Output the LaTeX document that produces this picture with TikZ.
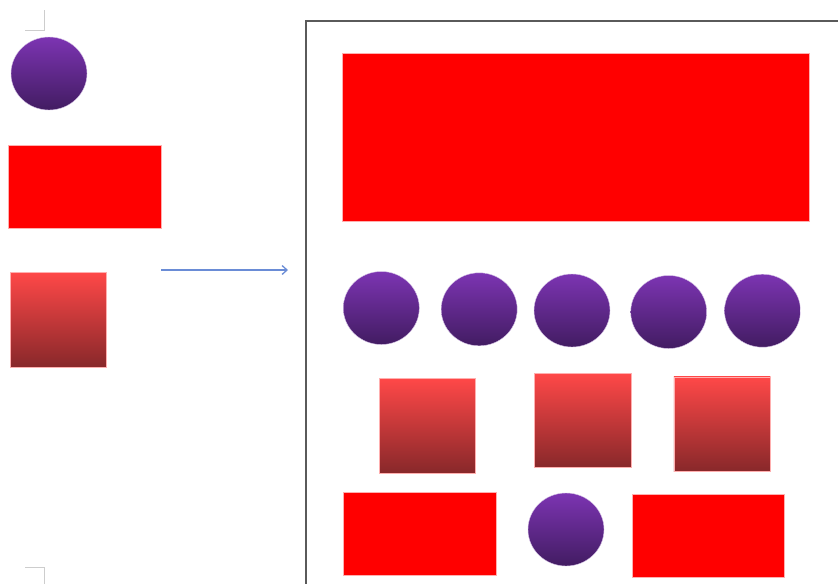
\documentclass[tikz,border=0pt]{standalone}
\usetikzlibrary{shapes.geometric,arrows.meta}
\definecolor{ballTop}{RGB}{124,52,178}
\definecolor{ballBot}{RGB}{66,28,98}
\definecolor{ballRim}{RGB}{215,195,232}
\definecolor{tileTop}{RGB}{255,72,72}
\definecolor{tileBot}{RGB}{136,40,42}
\definecolor{slabRed}{RGB}{255,0,0}
\definecolor{slabRim}{RGB}{255,175,175}
\definecolor{arrowBlue}{RGB}{106,140,214}
\definecolor{frameGray}{RGB}{90,90,90}
\definecolor{cropGray}{RGB}{205,205,205}
\tikzset{
  ball/.style={ellipse, inner sep=0pt, minimum width=76pt, minimum height=73pt,
    top color=ballTop, bottom color=ballBot, draw=ballRim, line width=0.4pt},
  slab/.style={rectangle, inner sep=0pt, fill=slabRed, draw=slabRim, line width=0.3pt},
  tile/.style={rectangle, inner sep=0pt, minimum width=96.5pt, minimum height=94.5pt,
    top color=tileTop, bottom color=tileBot, draw=slabRim, line width=0.3pt},
  cropmark/.style={draw=cropGray, line width=0.8pt},
  flow/.style={draw=arrowBlue, line width=1.3pt, -{Straight Barb[length=5pt,width=9pt]}},
}
\begin{document}
\begin{tikzpicture}[x=1pt,y=-1pt]
  \useasboundingbox (0,0) rectangle (838,584);
  \fill[white] (0,0) rectangle (838,584);

  % page corner marks
  \draw[cropmark] (25,30) -- (44,30) -- (44,10);
  \draw[cropmark] (25,567.5) -- (44,567.5) -- (44,584);

  % source shapes
  \node[ball] (srcBall) at (49,73.5) {};
  \node[slab, minimum width=153pt, minimum height=83pt] (srcSlab) at (84.5,186.5) {};
  \node[tile, minimum width=96pt, minimum height=95pt] (srcTile) at (58,319.5) {};

  % arrow towards the layout
  \coordinate (arrowFrom) at (161,270);
  \coordinate (arrowTo) at (288,270);
  \draw[flow] (arrowFrom) -- (arrowTo);

  % layout frame
  \draw[frameGray, line width=2pt] (838,20.5) -- (305.5,20.5) -- (305.5,584);

  % header block
  \node[slab, minimum width=466.5pt, minimum height=168.5pt] (header) at (575.75,137.25) {};

  % row of balls
  \node[ball] (ballA) at (381.3,308) {};
  \node[ball] (ballB) at (479.2,309.3) {};
  \node[ball] (ballC) at (572,310.5) {};
  \node[ball] (ballD) at (668.7,312) {};
  \node[ball] (ballE) at (762.5,310.7) {};

  % row of tiles
  \node[tile] (tileA) at (427.3,425.5) {};
  \node[tile] (tileB) at (582.5,420.3) {};
  \node[tile] (tileC) at (722.2,424) {};

  % bottom row
  \node[slab, minimum width=153.5pt, minimum height=83.5pt] (footL) at (419.75,533.75) {};
  \node[ball] (footBall) at (566,529.5) {};
  \node[slab, minimum width=152pt, minimum height=83pt] (footR) at (708,535.5) {};
\end{tikzpicture}
\end{document}
